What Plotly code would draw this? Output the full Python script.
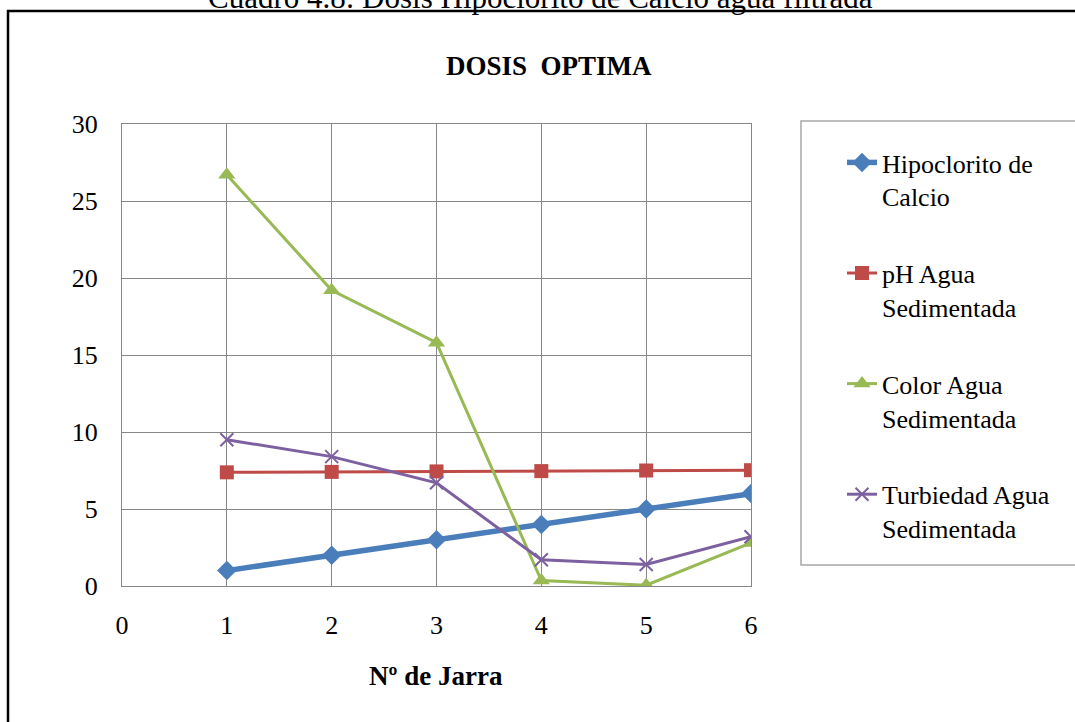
import plotly.graph_objects as go

jarra = [1, 2, 3, 4, 5, 6]
hipoclorito = [1, 2, 3, 4, 5, 6]
ph = [7.38, 7.41, 7.44, 7.46, 7.50, 7.52]
color = [26.7, 19.2, 15.8, 0.35, 0.05, 2.8]
turbiedad = [9.5, 8.4, 6.7, 1.7, 1.4, 3.2]

names = ["Hipoclorito de<br>Calcio", "pH Agua<br>Sedimentada",
         "Color Agua<br>Sedimentada", "Turbiedad Agua<br>Sedimentada"]

W, H = 1075, 722
L, R, T, B = 122, 324, 124, 136
PW, PH = W - L - R, H - T - B

def px(x):
    return (x - L) / PW

def py(y):
    return (H - B - y) / PH

FONT = "Liberation Serif"

fig = go.Figure()
fig.add_trace(go.Scatter(x=jarra, y=hipoclorito, name=names[0], mode="lines+markers",
                         line=dict(color="#4A7EBB", width=5.5),
                         marker=dict(symbol="diamond", size=15, color="#4A7EBB"),
                         legendgroup="a"))
fig.add_trace(go.Scatter(x=jarra, y=ph, name=names[1], mode="lines+markers",
                         line=dict(color="#BE4B48", width=3),
                         marker=dict(symbol="square", size=14, color="#BE4B48"),
                         legendgroup="b"))
fig.add_trace(go.Scatter(x=jarra, y=color, name=names[2], mode="lines+markers",
                         line=dict(color="#98B954", width=3),
                         marker=dict(symbol="triangle-up", size=15, color="#98B954"),
                         legendgroup="c"))
fig.add_trace(go.Scatter(x=jarra, y=turbiedad, name=names[3], mode="lines+markers",
                         line=dict(color="#7D60A0", width=3),
                         marker=dict(symbol="x-thin", size=13, color="#7D60A0",
                                     line=dict(color="#7D60A0", width=2)),
                         legendgroup="d"))

axis_common = dict(showgrid=True, gridcolor="#878787", gridwidth=1.3,
                   showline=True, linecolor="#878787", linewidth=1.3, mirror=True,
                   zeroline=False, ticks="",
                   tickfont=dict(family=FONT, size=26, color="black"))

fig.update_xaxes(range=[0, 6], dtick=1, tick0=0, ticklabelstandoff=16, **axis_common)
fig.update_yaxes(range=[0, 30], dtick=5, tick0=0, ticklabelstandoff=18, **axis_common)

fig.update_layout(
    width=W, height=H,
    margin=dict(l=L, r=R, t=T, b=B, autoexpand=False),
    paper_bgcolor="white", plot_bgcolor="white",
    showlegend=True,
    legend=dict(x=px(842), y=py(139), xanchor="left", yanchor="top",
                font=dict(family=FONT, size=26, color="black"),
                valign="top", tracegroupgap=40, bgcolor="rgba(0,0,0,0)",
                borderwidth=0),
    shapes=[
        dict(type="rect", xref="paper", yref="paper",
             x0=px(8), y0=py(11), x1=px(1100), y1=py(760),
             line=dict(color="black", width=2.5), fillcolor="rgba(0,0,0,0)", layer="below"),
        dict(type="rect", xref="paper", yref="paper",
             x0=px(801), y0=py(121), x1=px(1085), y1=py(565),
             line=dict(color="#A8A8A8", width=1.5), fillcolor="rgba(0,0,0,0)", layer="below"),
    ],
    annotations=[
        dict(text="Cuadro 4.8: Dosis Hipoclorito de Calcio agua filtrada",
             xref="paper", yref="paper", x=px(540), y=py(-2.5),
             xanchor="center", yanchor="middle", showarrow=False,
             font=dict(family=FONT, size=31, color="black")),
        dict(text="<b>DOSIS  OPTIMA</b>", xref="paper", yref="paper",
             x=px(549), y=py(66), xanchor="center", yanchor="middle", showarrow=False,
             font=dict(family=FONT, size=27, color="black")),
        dict(text="<b>Nº de Jarra</b>", xref="paper", yref="paper",
             x=px(436), y=py(676), xanchor="center", yanchor="middle", showarrow=False,
             font=dict(family=FONT, size=27, color="black")),
    ],
)

fig.write_html("out.html")
